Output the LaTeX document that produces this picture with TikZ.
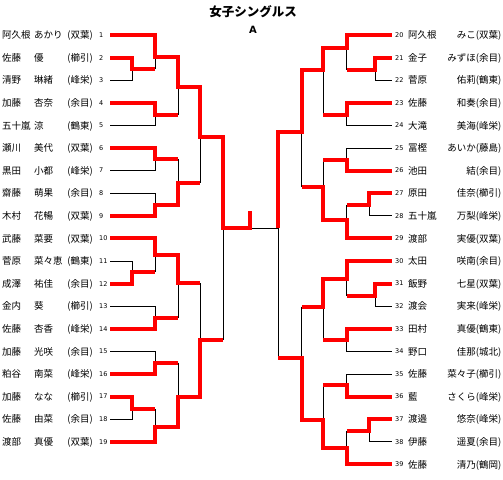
\documentclass[tikz,border=0pt]{standalone}
\usepackage{fontspec}
\setmainfont{Noto Sans CJK JP}
\newfontfamily\numfont{DejaVu Sans}
\tikzset{
  win/.style={draw=red, line width=4pt, line join=miter},
  lose/.style={draw=black, line width=0.8pt},
  nm/.style={inner sep=0pt, text height=8.4pt, text depth=1.1pt, font=\fontsize{9.5}{10}\selectfont},
  num/.style={inner sep=0pt, font=\numfont\fontsize{6.5}{7}\selectfont},
}
\begin{document}
\begin{tikzpicture}[x=1pt,y=-1pt]
\useasboundingbox (0,0) rectangle (503,479);
\node[inner sep=0pt, font=\fontsize{12.5}{13}\selectfont\bfseries] (title) at (253,12) {女子シングルス};
\node[inner sep=0pt, font=\numfont\fontsize{10}{10}\selectfont\bfseries] (pool) at (253,30) {A};

% left entries
\foreach \i/\s/\g/\t in {1/阿久根/あかり/双葉, 2/佐藤/優/櫛引, 3/清野/琳緒/峰栄, 4/加藤/杏奈/余目,
  5/五十嵐/涼/鶴東, 6/瀬川/美代/双葉, 7/黒田/小都/峰栄, 8/齋藤/萌果/余目, 9/木村/花暢/双葉,
  10/武藤/菜要/双葉, 11/菅原/菜々恵/鶴東, 12/成澤/祐佳/余目, 13/金内/葵/櫛引, 14/佐藤/杏香/峰栄,
  15/加藤/光咲/余目, 16/粕谷/南菜/峰栄, 17/加藤/なな/櫛引, 18/佐藤/由菜/余目, 19/渡部/真優/双葉}{
  \pgfmathsetmacro\yy{35+22.6*(\i-1)}
  \node[nm, anchor=west] (ls\i) at (2,\yy) {\s};
  \node[nm, anchor=west] (lg\i) at (34,\yy) {\g};
  \node[nm, anchor=east] (lt\i) at (93,\yy) {(\t)};
  \node[num, anchor=west] (ln\i) at (99,\yy) {\i};
}
% right entries
\foreach \i/\s/\g/\t in {20/阿久根/みこ/双葉, 21/金子/みずほ/余目, 22/菅原/佑莉/鶴東, 23/佐藤/和奏/余目,
  24/大滝/美海/峰栄, 25/冨樫/あいか/藤島, 26/池田/結/余目, 27/原田/佳奈/櫛引, 28/五十嵐/万梨/峰栄,
  29/渡部/実優/双葉, 30/太田/咲南/余目, 31/飯野/七星/双葉, 32/渡会/実来/峰栄, 33/田村/真優/鶴東,
  34/野口/佳那/城北, 35/佐藤/菜々子/櫛引, 36/藍/さくら/峰栄, 37/渡邉/悠奈/峰栄, 38/伊藤/遥夏/余目,
  39/佐藤/清乃/鶴岡}{
  \pgfmathsetmacro\yy{35+22.6*(\i-20)}
  \node[num, anchor=west] (rn\i) at (395,\yy) {\i};
  \node[nm, anchor=west] (rs\i) at (408,\yy) {\s};
  \node[nm, anchor=east] (rg\i) at (501.5,\yy) {\g(\t)};
}

% ---------- left, losing lines ----------
\draw[lose] (110,80.2) -- (132,80.2) -- (132,69);
\draw[lose] (155,56.7) -- (155,69);
\draw[lose] (110,125.4) -- (155,125.4) -- (155,115);
\draw[lose] (178,86.7) -- (178,115);
\draw[lose] (110,170.6) -- (155,170.6) -- (155,159.3);
\draw[lose] (178,159.3) -- (178,182.7);
\draw[lose] (110,193.2) -- (155,193.2) -- (155,205);
\draw[lose] (200,137.3) -- (200,182.7);
\draw[lose] (250,228.3) -- (278.3,228.3);
\draw[lose] (223,228.3) -- (223,340);
\draw[lose] (110,261) -- (132,261) -- (132,272.3);
\draw[lose] (155,255) -- (155,272.3);
\draw[lose] (110,306.2) -- (155,306.2) -- (155,318.3);
\draw[lose] (178,283.3) -- (178,318.3);
\draw[lose] (200,283.3) -- (200,340);
\draw[lose] (110,351.4) -- (155,351.4) -- (155,362.7);
\draw[lose] (178,362.7) -- (178,396.7);
\draw[lose] (110,419.2) -- (132,419.2) -- (132,409);
\draw[lose] (155,409) -- (155,426.7);

% ---------- right, losing lines ----------
\draw[lose] (391.7,80.2) -- (375,80.2) -- (375,70);
\draw[lose] (346.7,48.3) -- (346.7,70);
\draw[lose] (391.7,125.4) -- (346.7,125.4) -- (346.7,115);
\draw[lose] (323.3,70) -- (323.3,115);
\draw[lose] (391.7,148) -- (346.7,148) -- (346.7,160);
\draw[lose] (323.3,160) -- (323.3,186.7);
\draw[lose] (391.7,215.8) -- (369,215.8) -- (369,205);
\draw[lose] (346.7,205) -- (346.7,220);
\draw[lose] (301.7,131.7) -- (301.7,186.7);
\draw[lose] (278.3,228.3) -- (278.3,357.7);
\draw[lose] (391.7,306.2) -- (375,306.2) -- (375,295.7);
\draw[lose] (346.7,279.3) -- (346.7,295.7);
\draw[lose] (391.7,351.4) -- (346.7,351.4) -- (346.7,340);
\draw[lose] (323.3,306.7) -- (323.3,340);
\draw[lose] (301.7,306.7) -- (301.7,357.7);
\draw[lose] (391.7,374) -- (346.7,374) -- (346.7,385);
\draw[lose] (323.3,385) -- (323.3,420);
\draw[lose] (391.7,441.8) -- (369,441.8) -- (369,431);
\draw[lose] (346.7,431) -- (346.7,448.3);

% ---------- left, winning lines ----------
\draw[win] (110,35) -- (155,35) -- (155,56.7) -- (178,56.7) -- (178,86.7) -- (200,86.7) -- (200,137.3) -- (223,137.3) -- (223,228.3) -- (250,228.3) -- (250,210.7);
\draw[win] (110,57.6) -- (132,57.6) -- (132,69) -- (155,69);
\draw[win] (110,102.8) -- (155,102.8) -- (155,115) -- (178,115);
\draw[win] (110,148) -- (155,148) -- (155,159.3) -- (178,159.3);
\draw[win] (110,215.8) -- (155,215.8) -- (155,205) -- (178,205) -- (178,182.7) -- (200,182.7);
\draw[win] (110,238.4) -- (155,238.4) -- (155,255) -- (178,255) -- (178,283.3) -- (200,283.3);
\draw[win] (110,283.6) -- (132,283.6) -- (132,272.3) -- (155,272.3);
\draw[win] (110,328.8) -- (155,328.8) -- (155,318.3) -- (178,318.3);
\draw[win] (110,374) -- (155,374) -- (155,362.7) -- (178,362.7);
\draw[win] (110,441.8) -- (155,441.8) -- (155,426.7) -- (178,426.7) -- (178,396.7) -- (200,396.7) -- (200,340) -- (223,340);
\draw[win] (110,396.6) -- (132,396.6) -- (132,409) -- (155,409);

% ---------- right, winning lines ----------
\draw[win] (391.7,35) -- (346.7,35) -- (346.7,48.3) -- (323.3,48.3) -- (323.3,70) -- (301.7,70) -- (301.7,131.7) -- (278.3,131.7) -- (278.3,228.3);
\draw[win] (391.7,57.6) -- (375,57.6) -- (375,70) -- (346.7,70);
\draw[win] (391.7,102.8) -- (346.7,102.8) -- (346.7,115) -- (323.3,115);
\draw[win] (391.7,170.6) -- (346.7,170.6) -- (346.7,160) -- (323.3,160);
\draw[win] (391.7,193.2) -- (369,193.2) -- (369,205) -- (346.7,205);
\draw[win] (391.7,238.4) -- (346.7,238.4) -- (346.7,220) -- (323.3,220) -- (323.3,186.7) -- (301.7,186.7);
\draw[win] (391.7,261) -- (346.7,261) -- (346.7,279.3) -- (323.3,279.3) -- (323.3,306.7) -- (301.7,306.7);
\draw[win] (391.7,283.6) -- (375,283.6) -- (375,295.7) -- (346.7,295.7);
\draw[win] (391.7,328.8) -- (346.7,328.8) -- (346.7,340) -- (323.3,340);
\draw[win] (391.7,396.6) -- (346.7,396.6) -- (346.7,385) -- (323.3,385);
\draw[win] (391.7,419.2) -- (369,419.2) -- (369,431) -- (346.7,431);
\draw[win] (391.7,464.4) -- (346.7,464.4) -- (346.7,448.3) -- (323.3,448.3) -- (323.3,420) -- (301.7,420) -- (301.7,357.7) -- (278.3,357.7);
\end{tikzpicture}
\end{document}
